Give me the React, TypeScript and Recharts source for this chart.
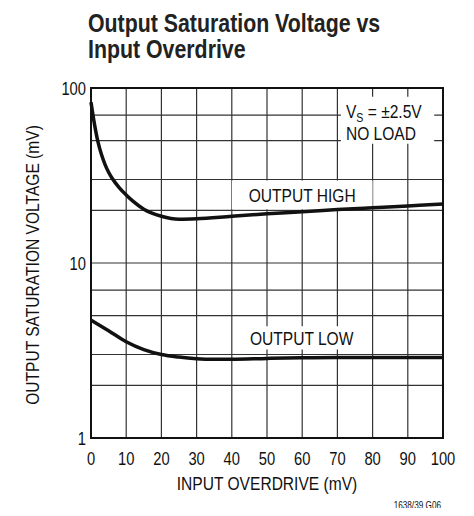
import React from 'react';
import { LineChart, Line, XAxis, YAxis, CartesianGrid, ReferenceArea } from 'recharts';

const FONT = "'Liberation Sans', Arial, sans-serif";
const SQUEEZE = 0.82;

// input overdrive (mV) / saturation voltage (mV)
const highX = [0, 1, 2, 3, 4, 5, 6, 8, 10, 12, 15, 20, 25, 30, 40, 50, 60, 70, 80, 90, 100];
const highY = [83, 62, 49, 41.5, 36.5, 33, 30.5, 27, 24.5, 22.5, 20.3, 18.5, 17.8, 17.9, 18.5, 19.1, 19.6, 20.2, 20.7, 21.2, 21.7];

const lowX = [0, 5, 10, 15, 20, 25, 30, 35, 40, 50, 60, 70, 80, 90, 100];
const lowY = [4.72, 4.1, 3.55, 3.2, 3.0, 2.9, 2.84, 2.82, 2.82, 2.85, 2.87, 2.88, 2.88, 2.88, 2.88];

const xTicks = [0, 10, 20, 30, 40, 50, 60, 70, 80, 90, 100];
const yTicks = [1, 10, 100];
const yGrid = [1, 2, 3, 4, 5, 6, 7, 8, 9, 10, 20, 30, 40, 50, 60, 70, 80, 90, 100];

const highData = highX.map((x, i) => ({ x, v: highY[i] }));
const lowData = lowX.map((x, i) => ({ x, v: lowY[i] }));

// condensed-looking text: Liberation Sans squeezed horizontally
function NarrowText({ x, y, anchor = 'start', size = 19, rotate = 0, weight = 'normal', children }: any) {
  return (
    <g transform={`translate(${x} ${y}) rotate(${rotate}) scale(${SQUEEZE} 1)`}>
      <text x={0} y={0} textAnchor={anchor} fontFamily={FONT} fontSize={size} fontWeight={weight} fill="#111">
        {children}
      </text>
    </g>
  );
}

const centerLabel = (text: string) => (props: any) => {
  const { x, y, width, height } = props.viewBox;
  return (
    <NarrowText x={x + width / 2} y={y + height / 2 + 7} anchor="middle">
      {text}
    </NarrowText>
  );
};

const condLabel = (props: any) => {
  const { x, y } = props.viewBox;
  return (
    <g>
      <NarrowText x={x + 5} y={y + 21}>
        V<tspan fontSize={13} dy={4}>S</tspan>
        <tspan dy={-4}> = ±2.5V</tspan>
      </NarrowText>
      <NarrowText x={x + 5} y={y + 43}>NO LOAD</NarrowText>
    </g>
  );
};

const XTick = (p: any) => (
  <NarrowText x={p.x} y={p.y + 13} anchor="middle" size={18}>
    {p.payload.value}
  </NarrowText>
);

const YTick = (p: any) => (
  <NarrowText x={p.x} y={p.y + 6.5} anchor="end" size={18}>
    {p.payload.value}
  </NarrowText>
);

export default function App() {
  return (
    <div style={{ position: 'relative', width: 474, height: 516, margin: -8, background: '#fff' }}>
      <div
        style={{
          position: 'absolute',
          left: 88,
          top: 10,
          fontFamily: FONT,
          fontWeight: 'bold',
          fontSize: 26,
          lineHeight: '26px',
          color: '#222',
          whiteSpace: 'nowrap',
          transform: `scaleX(${SQUEEZE})`,
          transformOrigin: 'left top',
        }}
      >
        Output Saturation Voltage vs
        <br />
        Input Overdrive
      </div>
      <LineChart width={474} height={516} margin={{ top: 88, right: 31, bottom: 28, left: 0 }}>
        <CartesianGrid stroke="#333" strokeWidth={1.2} horizontalValues={yGrid} verticalValues={xTicks} />
        <XAxis
          dataKey="x"
          type="number"
          domain={[0, 100]}
          ticks={xTicks}
          height={50}
          tickLine={false}
          axisLine={false}
          tickSize={10}
          tickMargin={4}
          tick={XTick}
          label={{
            content: (p: any) => (
              <g>
                <NarrowText x={p.viewBox.x + p.viewBox.width / 2} y={490} anchor="middle">
                  INPUT OVERDRIVE (mV)
                </NarrowText>
                <NarrowText x={p.viewBox.x + p.viewBox.width - 2} y={509} anchor="end" size={10}>
                  1638/39 G06
                </NarrowText>
              </g>
            ),
          }}
        />
        <YAxis
          dataKey="v"
          scale="log"
          domain={[1, 100]}
          ticks={yTicks}
          allowDataOverflow
          width={91}
          tickLine={false}
          axisLine={false}
          tickSize={3}
          tickMargin={2}
          tick={YTick}
          label={{
            content: (p: any) => (
              <NarrowText x={39} y={p.viewBox.y + p.viewBox.height / 2 + 2} anchor="middle" rotate={-90}>
                OUTPUT SATURATION VOLTAGE (mV)
              </NarrowText>
            ),
          }}
        />
        <ReferenceArea x1={40} x2={80} y1={20.3} y2={29.6} fill="#fff" fillOpacity={1} stroke="none" label={{ content: centerLabel('OUTPUT HIGH') }} />
        <ReferenceArea x1={43.7} x2={76} y1={3.2} y2={4.35} fill="#fff" fillOpacity={1} stroke="none" label={{ content: centerLabel('OUTPUT LOW') }} />
        <ReferenceArea x1={71} x2={97.5} y1={48} y2={89} fill="#fff" fillOpacity={1} stroke="none" label={{ content: condLabel }} />
        <ReferenceArea x1={0} x2={100} y1={1} y2={100} fill="none" fillOpacity={0} stroke="#111" strokeWidth={2} />
        <Line data={highData} dataKey="v" type="monotone" stroke="#111" strokeWidth={3.5} dot={false} isAnimationActive={false} />
        <Line data={lowData} dataKey="v" type="monotone" stroke="#111" strokeWidth={3.5} dot={false} isAnimationActive={false} />
      </LineChart>
    </div>
  );
}
